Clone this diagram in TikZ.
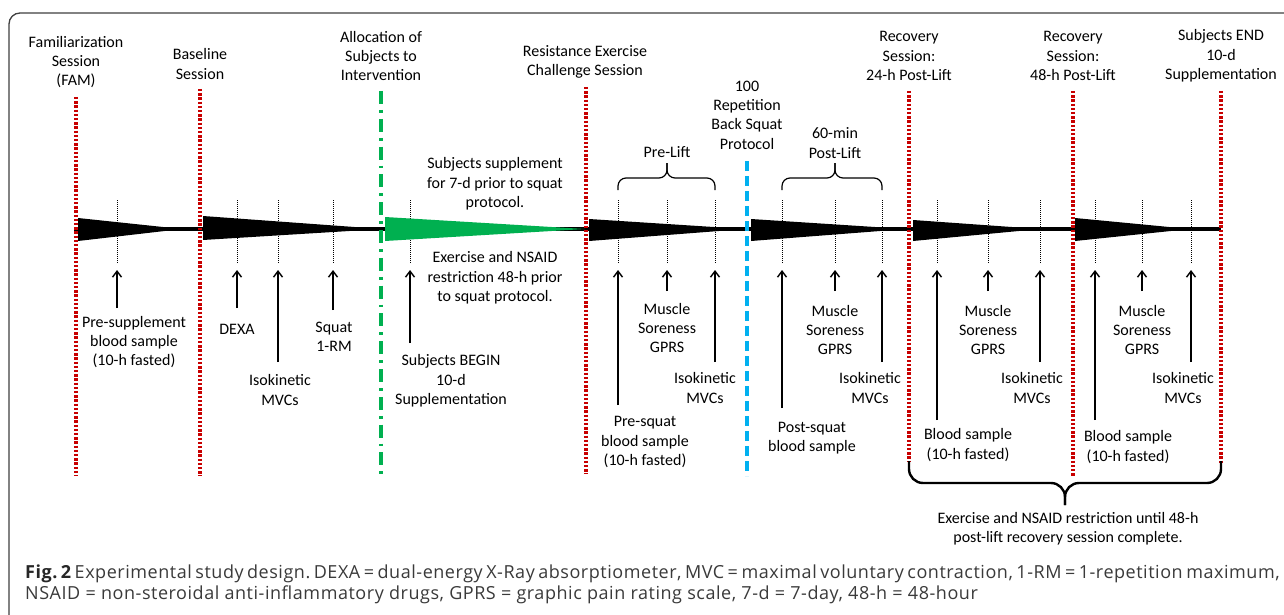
\documentclass[tikz,border=0pt]{standalone}
\usepackage{fontspec}
\setmainfont{Carlito}
\newfontfamily\capfont[LetterSpace=3]{Open Sans}
\usetikzlibrary{arrows.meta}
\definecolor{rdot}{HTML}{C80000}
\definecolor{gline}{HTML}{00B050}
\definecolor{bline}{HTML}{00B0F0}
\definecolor{capgray}{HTML}{3A3A3A}
\tikzset{
  lab/.style={align=center, inner sep=0pt, font=\fontsize{16}{19.3}\selectfont},
  reddiv/.style={draw=rdot, line width=3.2pt, dash pattern=on 2.4pt off 1.8pt},
  greendiv/.style={draw=gline, line width=3.2pt, dash pattern=on 13pt off 6pt on 2.8pt off 6pt},
  bluediv/.style={draw=bline, line width=3.2pt, dash pattern=on 10pt off 5pt},
  tick/.style={draw=black, line width=0.9pt, dash pattern=on 1pt off 1pt},
  uparr/.style={draw=black, line width=1.4pt, -{Straight Barb[length=6pt,width=9pt,line width=1.4pt]}},
  wedge/.style={fill=black, draw=none},
  brc/.style={draw=black, line width=1.2pt, rounded corners=8pt},
  bigbrc/.style={draw=black, line width=2.4pt, rounded corners=14pt},
  capstyle/.style={anchor=base west, inner sep=0pt, text=capgray, font=\capfont\fontsize{18}{20}\selectfont\frenchspacing},
}
\begin{document}
\begin{tikzpicture}[x=1pt,y=-1pt]
\useasboundingbox (0,0) rectangle (1284,615);
\fill[white] (0,0) rectangle (1284,615);
% frame
\begin{scope}
\clip (0,0) rectangle (1284,615);
\draw[line width=1.3pt, draw=black!75, rounded corners=11pt] (9,13) rectangle (1300,640);
\end{scope}

% small dotted ticks (behind)
\foreach \n/\x in {t1/117,t2/237,t3/278,t4/333,t5/410,t6/618,t7/667,t8/715,t9/782,t10/835,t11/882,t12/937,t13/988,t14/1040,t15/1095,t16/1142,t17/1191}{
  \coordinate (\n top) at (\x,200);
  \coordinate (\n bot) at (\x,263);
  \coordinate (\n head) at (\x,270);
  \draw[tick] (\n top) -- (\n bot);
}

% main timeline
\coordinate (lineS) at (74,229);
\coordinate (lineE) at (1221,229);
\draw[line width=3.2pt] (lineS) -- (lineE);

% wedges
\fill[wedge] (78,218) -- (78,241) -- (182,229) -- cycle;
\fill[wedge] (203,216) -- (203,240) -- (382,229) -- cycle;
\fill[gline] (385,217) -- (385,241) -- (585,229) -- cycle;
\fill[wedge] (589,219) -- (589,241) -- (745,229) -- cycle;
\fill[wedge] (751,219) -- (751,241) -- (906,229) -- cycle;
\fill[wedge] (913,220) -- (913,241) -- (1040,229) -- cycle;
\fill[wedge] (1075,218) -- (1075,241) -- (1190,229) -- cycle;

% vertical dividers
\coordinate (famA) at (76,97);   \coordinate (famB) at (76,476);
\coordinate (basA) at (200,89);  \coordinate (basB) at (200,476);
\coordinate (allA) at (381,91);  \coordinate (allB) at (381,477);
\coordinate (resA) at (586,87);  \coordinate (resB) at (586,474);
\coordinate (repA) at (747,161); \coordinate (repB) at (747,476);
\coordinate (r24A) at (909,91);  \coordinate (r24B) at (909,462);
\coordinate (r48A) at (1073,91); \coordinate (r48B) at (1073,477);
\coordinate (endA) at (1221,91); \coordinate (endB) at (1221,463);
\draw[reddiv] (famA) -- (famB);
\draw[reddiv] (basA) -- (basB);
\draw[greendiv] (allA) -- (allB);
\draw[reddiv] (resA) -- (resB);
\draw[bluediv] (repA) -- (repB);
\draw[reddiv] (r24A) -- (r24B);
\draw[reddiv] (r48A) -- (r48B);
\draw[reddiv] (endA) -- (endB);

% top labels
\node[lab] (famT) at (76,62) {Familiarization\\Session\\(FAM)};
\node[lab] (basT) at (200,64) {Baseline\\Session};
\node[lab] (allT) at (381,56) {Allocation of\\Subjects to\\Intervention};
\node[lab] (resT) at (585,62) {Resistance Exercise\\Challenge Session};
\node[lab] (repT) at (747,115) {100\\Repetition\\Back Squat\\Protocol};
\node[lab] (r24T) at (909,56) {Recovery\\Session:\\24-h Post-Lift};
\node[lab] (r48T) at (1073,56) {Recovery\\Session:\\48-h Post-Lift};
\node[lab] (endT) at (1221,56) {Subjects END\\10-d\\Supplementation};

\node[lab] (suppT) at (495,184) {Subjects supplement\\for 7-d prior to squat\\protocol.};
\node[lab] (restT) at (495,278) {Exercise and NSAID\\restriction 48-h prior\\to squat protocol.};

% small braces
\coordinate (pbL) at (618,190); \coordinate (pbM) at (667,178); \coordinate (pbR) at (715,190); \coordinate (pbT) at (667,163);
\draw[brc] (pbL) -- (618,178) -- (pbM) -- (pbT);
\draw[brc] (pbR) -- (715,178) -- (pbM) -- (pbT);
\node[lab] (preT) at (667,152) {Pre-Lift};
\coordinate (qbL) at (782,190); \coordinate (qbM) at (835,178); \coordinate (qbR) at (882,190); \coordinate (qbT) at (835,163);
\draw[brc] (qbL) -- (782,178) -- (qbM) -- (qbT);
\draw[brc] (qbR) -- (882,178) -- (qbM) -- (qbT);
\node[lab] (postT) at (835,143) {60-min\\Post-Lift};

% arrows
\foreach \n/\x/\y in {t1/117/308,t2/237/308,t3/278/362,t4/333/310,t5/410/343,t6/618/405,t7/667/291,t8/715/362,t9/782/408,t10/835/291,t11/882/362,t12/937/420,t13/988/291,t14/1040/362,t15/1095/420,t16/1142/291,t17/1191/362}{
  \coordinate (\n tail) at (\x,\y);
  \draw[uparr] (\n tail) -- (\n head);
}

% bottom labels
\node[lab] (presupT) at (134,342) {Pre-supplement\\blood sample\\(10-h fasted)};
\node[lab] (dexaT) at (237,329) {DEXA};
\node[lab] (iso1T) at (280,390) {Isokinetic\\MVCs};
\node[lab] (squatT) at (334,337) {Squat\\1-RM};
\node[lab] (beginT) at (451,381) {Subjects BEGIN\\10-d\\Supplementation};
\node[lab] (presqT) at (645,442) {Pre-squat\\blood sample\\(10-h fasted)};
\node[lab] (ms1T) at (667,328) {Muscle\\Soreness\\GPRS};
\node[lab] (iso2T) at (705,388) {Isokinetic\\MVCs};
\node[lab] (postsqT) at (812,438) {Post-squat\\blood sample};
\node[lab] (ms2T) at (835,330) {Muscle\\Soreness\\GPRS};
\node[lab] (iso3T) at (870,388) {Isokinetic\\MVCs};
\node[lab] (bl1T) at (968,445) {Blood sample\\(10-h fasted)};
\node[lab] (ms3T) at (988,330) {Muscle\\Soreness\\GPRS};
\node[lab] (iso4T) at (1032,388) {Isokinetic\\MVCs};
\node[lab] (bl2T) at (1128,447) {Blood sample\\(10-h fasted)};
\node[lab] (ms4T) at (1142,330) {Muscle\\Soreness\\GPRS};
\node[lab] (iso5T) at (1183,388) {Isokinetic\\MVCs};

% big brace
\coordinate (bbL) at (909,461); \coordinate (bbR) at (1221,461);
\coordinate (bbM) at (1065,483); \coordinate (bbT) at (1065,505);
\draw[bigbrc] (bbL) -- (909,483) -- (bbM) -- (bbT);
\draw[bigbrc] (bbR) -- (1221,483) -- (bbM) -- (bbT);
\node[lab] (bigT) at (1068,529) {Exercise and NSAID restriction until 48-h\\post-lift recovery session complete.};

% caption
\node[capstyle] (cap1) at (25,578)
  {\makebox[1252pt][s]{{\color{black!85}\bfseries Fig. 2} Experimental study design. DEXA = dual-energy X-Ray absorptiometer, MVC = maximal voluntary contraction, 1-RM = 1-repetition maximum,}};
\node[capstyle] (cap2) at (25,599)
  {NSAID = non-steroidal anti-inflammatory drugs, GPRS = graphic pain rating scale, 7-d = 7-day, 48-h = 48-hour};
\end{tikzpicture}
\end{document}
